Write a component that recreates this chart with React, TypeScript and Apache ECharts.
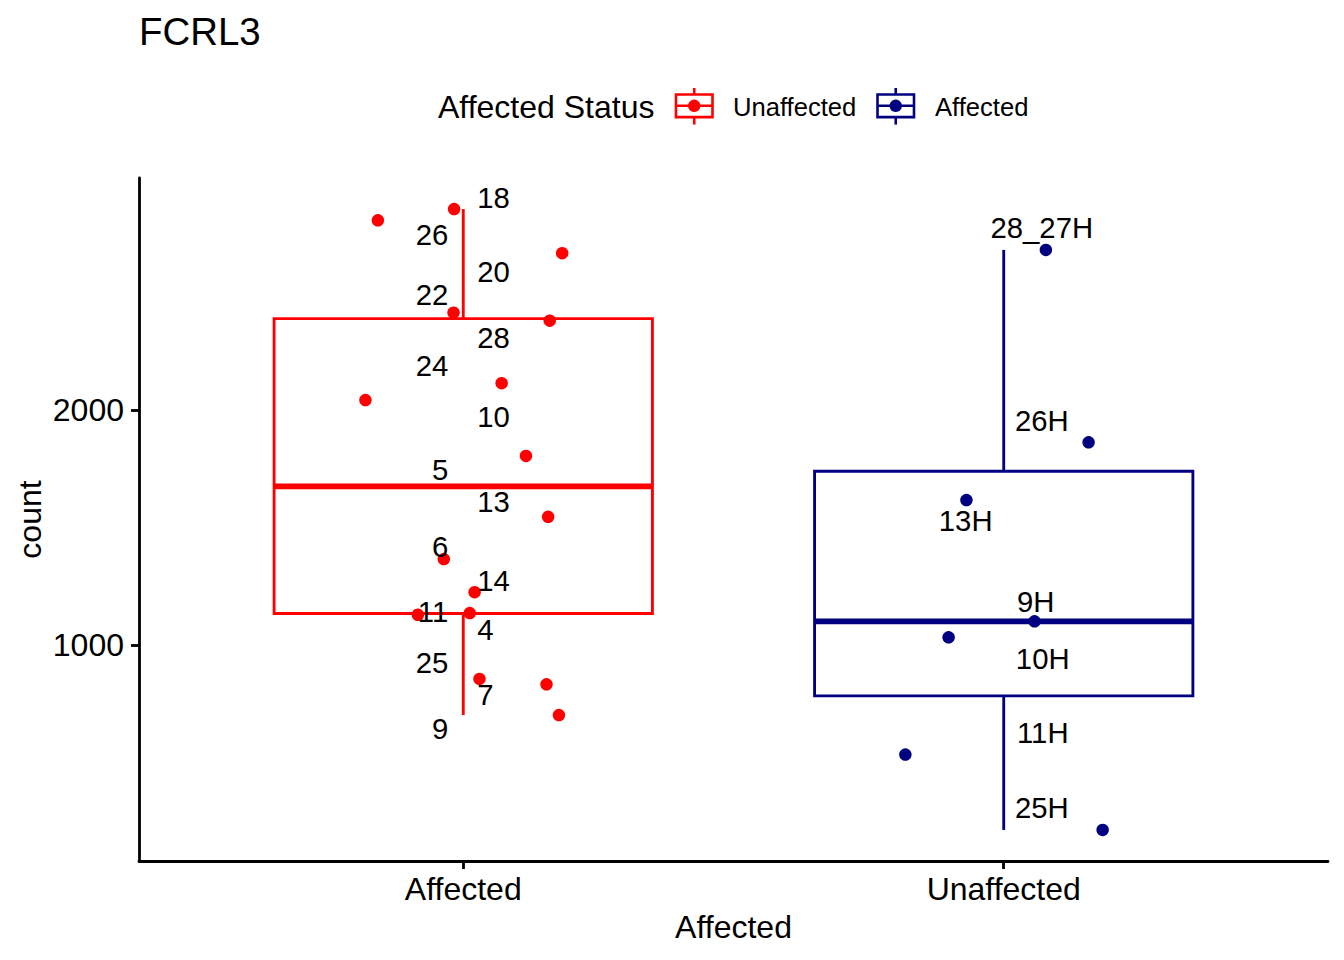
import React, { useEffect, useRef } from "react";
import * as echarts from "echarts";

// ---------- data ----------
const categories = ["Affected", "Unaffected"];
const groupColors = ["#FF0000", "#000080"];
const legendTitle = "Affected Status";
const legendLabels = ["Unaffected", "Affected"];

const affectedIds = ["18", "26", "20", "22", "28", "24", "10", "5", "13", "6", "14", "11", "4", "25", "7", "9"];
const affectedCounts = [2856, 2808, 2668, 2415, 2381, 2115, 2043, 1805, 1546, 1366, 1225, 1129, 1136, 856, 833, 702];
const affectedJitterX = [0.983, 0.842, 1.183, 0.982, 1.160, 1.071, 0.819, 1.116, 1.157, 0.964, 1.021, 0.916, 1.012, 1.030, 1.154, 1.177];
const affectedLabelY = [2898, 2742, 2582, 2487, 2303, 2183, 1968, 1741, 1605, 1414, 1270, 1138, 1058, 921, 785, 640];
const affectedLabelSide = [1, -1, 1, -1, 1, -1, 1, -1, 1, -1, 1, -1, 1, -1, 1, -1];

const unaffectedIds = ["28_27H", "26H", "13H", "9H", "10H", "11H", "25H"];
const unaffectedCounts = [2682, 1863, 1617, 1101, 1033, 534, 213];
const unaffectedJitterX = [2.078, 2.157, 1.931, 2.057, 1.898, 1.818, 2.183];
const unaffectedLabelX = [2.0704, 2.0704, 1.9296, 2.0593, 2.0722, 2.0722, 2.0704];
const unaffectedLabelY = [2773, 1949, 1525, 1178, 938, 623, 301];

const yTicks = [1000, 2000];
const xTicks = [1, 2];

// ---------- helpers ----------
const FONT = '"Liberation Sans", Arial, Helvetica, sans-serif';

function quantile(sorted: number[], p: number) {
  const h = (sorted.length - 1) * p;
  const lo = Math.floor(h);
  const hi = Math.ceil(h);
  return sorted[lo] + (h - lo) * (sorted[hi] - sorted[lo]);
}

function boxStats(x: number, vals: number[]) {
  const s = vals.slice().sort((a, b) => a - b);
  const q1 = quantile(s, 0.25);
  const med = quantile(s, 0.5);
  const q3 = quantile(s, 0.75);
  const iqr = q3 - q1;
  const lowW = Math.min(...s.filter((v) => v >= q1 - 1.5 * iqr));
  const highW = Math.max(...s.filter((v) => v <= q3 + 1.5 * iqr));
  return [x, lowW, q1, med, q3, highW];
}

const LEFT_ANCHOR = 0.9722;
const RIGHT_ANCHOR = 1.0259;

export default function App() {
  const ref = useRef<HTMLDivElement>(null);

  useEffect(() => {
    document.body.style.margin = "0";
    if (!ref.current) return;
    const chart = echarts.init(ref.current, null, { renderer: "svg" });

    const allVals = affectedCounts.concat(unaffectedCounts);
    const vMin = Math.min(...allVals);
    const vMax = Math.max(...allVals);
    const span = vMax - vMin;
    const yMin = vMin - 0.05 * span;
    const yMax = vMax + 0.05 * span;

    const boxes = [boxStats(1, affectedCounts), boxStats(2, unaffectedCounts)];

    const labelData: any[] = [];
    affectedIds.forEach((id, i) => {
      const side = affectedLabelSide[i];
      labelData.push({
        value: [side > 0 ? RIGHT_ANCHOR : LEFT_ANCHOR, affectedLabelY[i]],
        name: id,
        align: side > 0 ? "left" : "right",
      });
    });
    unaffectedIds.forEach((id, i) => {
      labelData.push({ value: [unaffectedLabelX[i], unaffectedLabelY[i]], name: id, align: "center" });
    });

    const lw = 2.85;

    const option: any = {
      animation: false,
      grid: { left: 139, right: 16, top: 178, bottom: 99 },
      xAxis: {
        type: "value",
        min: 0.4,
        max: 2.6,
        splitLine: { show: false },
        axisLine: { show: true, lineStyle: { color: "#000", width: 2.8 } },
        axisTick: { show: true, length: 8, lineStyle: { color: "#000", width: 2.8 }, customValues: xTicks },
        axisLabel: {
          show: true,
          customValues: xTicks,
          formatter: (v: number) => categories[Math.round(v) - 1] || "",
          color: "#000",
          fontSize: 32,
          fontFamily: FONT,
          margin: 12,
        },
      },
      yAxis: {
        type: "value",
        min: yMin,
        max: yMax,
        splitLine: { show: false },
        axisLine: { show: true, lineStyle: { color: "#000", width: 2.8 } },
        axisTick: { show: true, length: 8, lineStyle: { color: "#000", width: 2.8 }, customValues: yTicks },
        axisLabel: {
          show: true,
          customValues: yTicks,
          formatter: (v: number) => String(Math.round(v)),
          color: "#000",
          fontSize: 32,
          fontFamily: FONT,
          margin: 15,
        },
      },
      series: [
        {
          type: "custom",
          name: "box",
          silent: true,
          encode: { x: 0, y: [1, 2, 3, 4, 5] },
          data: boxes,
          z: 1,
          renderItem: (params: any, api: any) => {
            const color = groupColors[params.dataIndex];
            const x = api.value(0);
            const cx = api.coord([x, 0])[0];
            const half = api.size([0.35, 0])[0];
            const yLow = api.coord([x, api.value(1)])[1];
            const yQ1 = api.coord([x, api.value(2)])[1];
            const yMed = api.coord([x, api.value(3)])[1];
            const yQ3 = api.coord([x, api.value(4)])[1];
            const yHigh = api.coord([x, api.value(5)])[1];
            const st = { stroke: color, lineWidth: lw, fill: null };
            return {
              type: "group",
              children: [
                { type: "line", shape: { x1: cx, y1: yQ3, x2: cx, y2: yHigh }, style: st },
                { type: "line", shape: { x1: cx, y1: yQ1, x2: cx, y2: yLow }, style: st },
                {
                  type: "rect",
                  shape: { x: cx - half, y: yQ3, width: 2 * half, height: yQ1 - yQ3 },
                  style: { stroke: color, lineWidth: lw, fill: "#fff" },
                },
                {
                  type: "line",
                  shape: { x1: cx - half, y1: yMed, x2: cx + half, y2: yMed },
                  style: { stroke: color, lineWidth: lw * 2 },
                },
              ],
            };
          },
        },
        {
          type: "scatter",
          name: categories[0],
          silent: true,
          z: 3,
          symbol: "circle",
          symbolSize: 12.5,
          itemStyle: { color: groupColors[0], borderWidth: 0, opacity: 1 },
          data: affectedJitterX.map((x, i) => [x, affectedCounts[i]]),
        },
        {
          type: "scatter",
          name: categories[1],
          silent: true,
          z: 3,
          symbol: "circle",
          symbolSize: 12.5,
          itemStyle: { color: groupColors[1], borderWidth: 0, opacity: 1 },
          data: unaffectedJitterX.map((x, i) => [x, unaffectedCounts[i]]),
        },
        {
          type: "custom",
          name: "labels",
          silent: true,
          z: 5,
          encode: { x: 0, y: 1 },
          data: labelData,
          renderItem: (params: any, api: any) => {
            const item = labelData[params.dataIndex];
            const p = api.coord([api.value(0), api.value(1)]);
            return {
              type: "text",
              x: p[0],
              y: p[1] - 1.5,
              style: {
                text: item.name,
                fill: "#000",
                font: `29.3px ${FONT}`,
                textAlign: item.align,
                align: item.align,
                textVerticalAlign: "middle",
                verticalAlign: "middle",
              },
            };
          },
        },
      ],
      graphic: [
        {
          type: "text",
          left: 139,
          top: 12,
          style: { text: "FCRL3", fill: "#000", font: `38.4px ${FONT}` },
        },
        {
          type: "text",
          x: 733.5,
          y: 927,
          style: {
            text: categories[0],
            fill: "#000",
            font: `32px ${FONT}`,
            textAlign: "center",
            align: "center",
            textVerticalAlign: "middle",
            verticalAlign: "middle",
          },
        },
        {
          type: "text",
          x: 30,
          y: 519.5,
          rotation: Math.PI / 2,
          style: {
            text: "count",
            fill: "#000",
            font: `32px ${FONT}`,
            textAlign: "center",
            align: "center",
            textVerticalAlign: "middle",
            verticalAlign: "middle",
          },
        },
        {
          type: "text",
          x: 438,
          y: 107,
          style: {
            text: legendTitle,
            fill: "#000",
            font: `32px ${FONT}`,
            textAlign: "left",
            align: "left",
            textVerticalAlign: "middle",
            verticalAlign: "middle",
          },
        },
        ...[0, 1].flatMap((k) => {
          const kx = k === 0 ? 676 : 877.5;
          const tx = k === 0 ? 733 : 935;
          const color = groupColors[k];
          const w = 36.5;
          const cx = kx + w / 2;
          const cy = 105.8;
          const st = { stroke: color, lineWidth: 2.6, fill: null };
          return [
            { type: "line", shape: { x1: cx, y1: 88, x2: cx, y2: 94.5 }, style: st },
            { type: "line", shape: { x1: cx, y1: 117.1, x2: cx, y2: 124.6 }, style: st },
            { type: "rect", shape: { x: kx, y: 94.5, width: w, height: 22.6 }, style: { stroke: color, lineWidth: 2.6, fill: "#fff" } },
            { type: "line", shape: { x1: kx, y1: cy, x2: kx + w, y2: cy }, style: st },
            { type: "circle", shape: { cx, cy, r: 6.2 }, style: { fill: color } },
            {
              type: "text",
              x: tx,
              y: 107,
              style: {
                text: legendLabels[k],
                fill: "#000",
                font: `25.6px ${FONT}`,
                textAlign: "left",
                align: "left",
                textVerticalAlign: "middle",
                verticalAlign: "middle",
              },
            },
          ];
        }),
      ],
    };

    chart.setOption(option);
    return () => {
      chart.dispose();
    };
  }, []);

  return (
    <div
      ref={ref}
      style={{ position: "absolute", left: 0, top: 0, width: 1344, height: 960, background: "#fff" }}
    />
  );
}
